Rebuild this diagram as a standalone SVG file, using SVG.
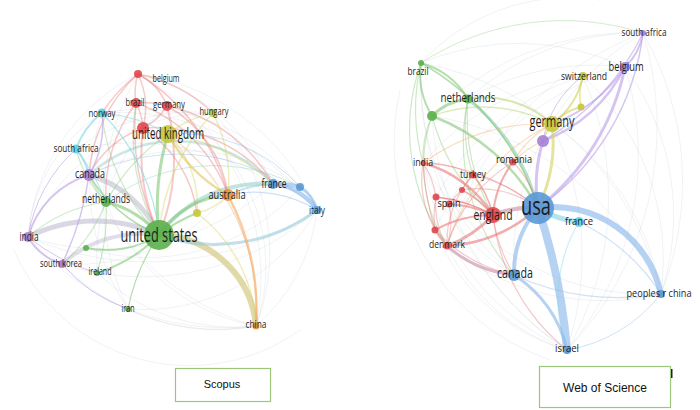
<svg xmlns="http://www.w3.org/2000/svg" width="700" height="410" viewBox="0 0 700 410">
<style>
.e{fill:none;stroke-linecap:round}
.f{stroke-opacity:.22;stroke-width:.8}
.m{stroke-opacity:.4}
.s{stroke-opacity:.6}
.r{stroke:#e8787a}.g{stroke:#84c876}.y{stroke:#d4d25c}.b{stroke:#86b4ea}.p{stroke:#bb9ee6}.c{stroke:#7fd6e4}.o{stroke:#f2aa62}.k{stroke:#aab4c2}.t{stroke:#86cbb8}
.n{fill-opacity:.9}
.nr{fill:#e0474c}.ng{fill:#5bb04d}.ny{fill:#c6c73a}.nb{fill:#5a98d6}.np{fill:#a57fd6}.nc{fill:#5cd0e0}.no{fill:#ef8f3a}
text.l{font-family:"Open Sans","DejaVu Sans",sans-serif;fill:#1e1e1e;text-anchor:middle}
.box{fill:#fff;stroke:#9cc77a;stroke-width:1.2}
text.bt{font-family:"Liberation Sans",Arial,sans-serif;fill:#111;text-anchor:middle}
</style>
<rect width="700" height="410" fill="#fff"/>
<g id="connectors">
<g class="e f k">
<path d="M28,237 A260,260 0 0 0 256,326"/>
<path d="M62,264 A220,220 0 0 0 256,326"/>
<path d="M128,309 A200,200 0 0 0 317,210"/>
<path d="M28,237 A300,300 0 0 0 317,210"/>
<path d="M102,113 A250,250 0 0 1 317,210"/>
<path d="M138,74 A230,230 0 0 1 317,210"/>
<path d="M138,74 A200,200 0 0 1 273,184"/>
<path d="M76,149 A260,260 0 0 1 273,184"/>
<path d="M28,237 A160,160 0 0 1 102,113"/>
<path d="M28,237 A200,200 0 0 1 138,74"/>
<path d="M256,326 A180,180 0 0 0 317,210"/>
<path d="M97,273 A200,200 0 0 0 256,326"/>
<path d="M128,309 A200,200 0 0 0 256,326"/>
<path d="M62,264 A260,260 0 0 0 317,210"/>
<path d="M28,237 A200,200 0 0 1 213,113"/>
<path d="M76,149 A200,200 0 0 1 213,113"/>
<path d="M102,113 A200,200 0 0 1 300,187"/>
<path d="M62,264 A200,200 0 0 0 228,195"/>
<path d="M28,237 A250,250 0 0 0 273,184"/>
<path d="M86,248 A200,200 0 0 0 300,187"/>
<path d="M138,74 A250,250 0 0 0 128,309"/>
<path d="M102,113 A220,220 0 0 0 128,309"/>
<path d="M167,106 A200,200 0 0 0 97,273"/>
<path d="M213,113 A200,200 0 0 1 256,326"/>
<path d="M138,74 A230,230 0 0 1 256,326"/>
<path d="M167,106 A180,180 0 0 1 256,326"/>
<path d="M89,175 A250,250 0 0 0 256,326"/>
<path d="M106,202 A200,200 0 0 0 256,326"/>
<path d="M102,113 A200,200 0 0 1 228,195"/>
<path d="M89,175 A200,200 0 0 1 300,187"/>
<path d="M14,250 A190,190 0 0 0 300,330"/>
</g>
<path class="e" d="M28,237 A150,150 0 0 1 159,235" stroke="#bcb6d0" stroke-opacity=".55" stroke-width="5"/>
<path class="e" d="M89,175 A110,110 0 0 1 159,235" stroke="#b9bcc8" stroke-opacity=".55" stroke-width="5"/>
<path class="e" d="M62,264 A120,120 0 0 1 159,235" stroke="#bdb6d2" stroke-opacity=".45" stroke-width="4"/>
<path class="e" d="M159,235 A100,100 0 0 1 256,326" stroke="#d2c47a" stroke-opacity=".65" stroke-width="6"/>
<path class="e" d="M159,235 A130,130 0 0 1 273,184" stroke="#8ccfc0" stroke-opacity=".55" stroke-width="4"/>
<path class="e" d="M89,175 A130,130 0 0 1 273,184" stroke="#8fcdc4" stroke-opacity=".45" stroke-width="2.5"/>
<path class="e" d="M159,235 A170,170 0 0 0 317,210" stroke="#8fc6d8" stroke-opacity=".55" stroke-width="3"/>
<path class="e t m" d="M106,202 A180,180 0 0 1 300,187"/>
<g class="e r m" stroke-width="1.5">
<path d="M138,74 A80,80 0 0 1 143,128"/>
<path d="M138,74 A60,60 0 0 1 167,106"/>
<path d="M136,103 A60,60 0 0 1 143,128"/>
<path d="M136,103 A80,80 0 0 1 167,106"/>
<path d="M167,106 A60,60 0 0 1 143,128"/>
<path d="M138,74 A60,60 0 0 0 136,103"/>
<path d="M138,74 A200,200 0 0 1 228,195"/>
<path d="M136,103 A150,150 0 0 1 228,195"/>
<path d="M167,106 A120,120 0 0 1 228,195"/>
<path d="M143,128 A150,150 0 0 1 273,184"/>
<path d="M167,106 A160,160 0 0 1 273,184"/>
<path d="M138,74 A150,150 0 0 1 213,113"/>
<path d="M136,103 A250,250 0 0 0 159,235"/>
<path d="M143,128 A200,200 0 0 0 159,235" stroke-width="2"/>
<path d="M167,106 A200,200 0 0 1 159,235" stroke-width="2"/>
<path d="M138,74 A150,150 0 0 0 89,175"/>
<path d="M136,103 A150,150 0 0 0 106,202"/>
<path d="M143,128 A100,100 0 0 0 89,175"/>
<path d="M138,74 A150,150 0 0 0 102,113"/>
<path d="M143,128 A120,120 0 0 1 197,213"/>
</g>
<path class="e o m" d="M168,134 A220,220 0 0 1 256,326" stroke-width="1.2"/>
<g class="e y m" stroke-width="1.5">
<path d="M213,113 A100,100 0 0 0 168,134"/>
<path d="M213,113 A150,150 0 0 1 228,195"/>
<path d="M213,113 A200,200 0 0 0 159,235"/>
<path d="M197,213 A100,100 0 0 0 168,134"/>
<path d="M197,213 A60,60 0 0 0 228,195"/>
<path d="M168,134 A200,200 0 0 1 273,184"/>
<path d="M197,213 A150,150 0 0 1 256,326"/>
</g>
<path class="e" d="M168,134 A150,150 0 0 0 228,195" stroke="#e2c45e" stroke-opacity=".6" stroke-width="2.5"/>
<g class="e g s">
<path d="M159,235 A90,90 0 0 1 228,195" stroke-width="3"/>
<path d="M159,235 A250,250 0 0 1 168,134" stroke-width="3"/>
<path d="M159,235 A100,100 0 0 0 106,202" stroke-width="3"/>
<path d="M159,235 A100,100 0 0 1 86,248" stroke-width="2"/>
<path d="M159,235 A150,150 0 0 1 97,273" stroke-width="2"/>
<path d="M159,235 A200,200 0 0 0 128,309" stroke-width="1.2"/>
<path d="M159,235 A150,150 0 0 1 197,213" stroke-width="2"/>
<path d="M159,235 A150,150 0 0 1 89,175" stroke-width="1.5"/>
</g>
<g class="e g m" stroke-width="1.2">
<path d="M106,202 A150,150 0 0 1 89,175"/>
<path d="M106,202 A200,200 0 0 1 168,134"/>
<path d="M106,202 A150,150 0 0 0 28,237"/>
<path d="M106,202 A150,150 0 0 1 62,264"/>
<path d="M106,202 A200,200 0 0 1 97,273"/>
<path d="M159,235 A200,200 0 0 1 136,103"/>
<path d="M159,235 A200,200 0 0 1 102,113"/>
<path d="M106,202 A120,120 0 0 1 76,149"/>
</g>
<path class="e b s" d="M273,184 A60,60 0 0 1 317,210" stroke-width="4"/>
<path class="e b s" d="M273,184 A80,80 0 0 1 300,187" stroke-width="4"/>
<path class="e b s" d="M300,187 A40,40 0 0 1 317,210" stroke-width="3"/>
<path class="e b m" d="M228,195 A120,120 0 0 1 273,184" stroke-width="2"/>
<path class="e b m" d="M228,195 A120,120 0 0 1 317,210" stroke-width="1.2"/>
<path class="e b m" d="M168,134 A160,160 0 0 1 300,187" stroke-width="1"/>
<path class="e b m" d="M89,175 A200,200 0 0 1 317,210" stroke-width="1"/>
<path class="e o s" d="M228,195 A250,250 0 0 1 256,326" stroke-width="2.5"/>
<g class="e p s">
<path d="M28,237 A90,90 0 0 1 89,175" stroke-width="2"/>
<path d="M28,237 A60,60 0 0 0 62,264" stroke-width="2"/>
<path d="M89,175 A300,300 0 0 1 62,264" stroke-width="1.5"/>
<path d="M89,175 A100,100 0 0 0 102,113" stroke-width="1.5"/>
<path d="M28,237 A150,150 0 0 1 76,149" stroke-width="1"/>
<path d="M28,237 A200,200 0 0 0 97,273" stroke-width="1"/>
<path d="M62,264 A150,150 0 0 0 128,309" stroke-width="1"/>
</g>
<g class="e c s">
<path d="M102,113 A80,80 0 0 0 76,149" stroke-width="2"/>
<path d="M76,149 A60,60 0 0 1 89,175" stroke-width="2"/>
<path d="M102,113 A200,200 0 0 1 159,235" stroke-width="1.2"/>
<path d="M76,149 A200,200 0 0 1 106,202" stroke-width="1"/>
<path d="M102,113 A150,150 0 0 1 168,134" stroke-width="1"/>
</g>

<g class="e f k">
<path d="M421,63 A260,260 0 0 1 643,33" class="g" style="stroke-opacity:.45"/>
<path d="M421,63 A330,330 0 0 0 567,350"/>
<path d="M423,163 A250,250 0 0 0 567,350"/>
<path d="M447,246 A200,200 0 0 0 567,350"/>
<path d="M643,33 A300,300 0 0 1 661,294"/>
<path d="M625,67 A300,300 0 0 1 567,350"/>
<path d="M625,67 A250,250 0 0 1 661,294"/>
<path d="M583,76 A300,300 0 0 1 567,350"/>
<path d="M643,33 A320,320 0 0 1 567,350"/>
<path d="M468,99 A250,250 0 0 1 643,33"/>
<path d="M432,116 A300,300 0 0 0 567,350"/>
<path d="M423,163 A260,260 0 0 0 661,294"/>
<path d="M447,246 A250,250 0 0 0 661,294"/>
<path d="M567,350 A150,150 0 0 0 661,294" class="b" style="stroke-opacity:.5"/>
<path d="M421,63 A300,300 0 0 1 661,294"/>
<path d="M432,116 A300,300 0 0 1 661,294"/>
<path d="M421,63 A250,250 0 0 1 625,67"/>
<path d="M468,99 A250,250 0 0 1 625,67"/>
<path d="M423,163 A250,250 0 0 1 583,76"/>
<path d="M436,197 A250,250 0 0 1 625,67"/>
<path d="M583,76 A250,250 0 0 1 661,294"/>
<path d="M552,124 A250,250 0 0 1 661,294"/>
<path d="M552,124 A300,300 0 0 1 567,350"/>
<path d="M421,63 A250,250 0 0 0 514,275"/>
<path d="M423,163 A200,200 0 0 0 514,275"/>
<path d="M435,230 A200,200 0 0 0 567,350"/>
<path d="M421,63 A200,200 0 0 1 600,0"/>
<path d="M400,90 A230,230 0 0 0 550,360"/>
<path d="M432,116 A280,280 0 0 1 643,33"/>
<path d="M447,246 A320,320 0 0 1 643,33"/>
<path d="M435,230 A300,300 0 0 1 625,67"/>
<path d="M514,275 A260,260 0 0 1 643,33"/>
</g>
<path class="e b s" d="M538,208 A600,600 0 0 1 567,350" stroke-width="8"/>
<path class="e b s" d="M538,208 A110,110 0 0 1 661,294" stroke-width="6"/>
<path class="e c s" d="M538,208 A100,100 0 0 0 579,222" stroke-width="5"/>
<path class="e b s" d="M538,208 A100,100 0 0 0 514,275" stroke-width="4"/>
<path class="e b s" d="M514,275 A120,120 0 0 1 567,350" stroke-width="3"/>
<path class="e" d="M493,215 A100,100 0 0 1 538,208" stroke="#c98aa2" stroke-opacity=".6" stroke-width="4"/>
<g class="e p s">
<path d="M538,208 A150,150 0 0 1 543,141" stroke-width="3"/>
<path d="M538,208 A240,240 0 0 0 625,67" stroke-width="3"/>
<path d="M543,141 A150,150 0 0 0 625,67" stroke-width="2.5"/>
<path d="M552,124 A150,150 0 0 0 625,67" stroke-width="2"/>
<path d="M538,208 A250,250 0 0 0 643,33" stroke-width="1.5"/>
<path d="M625,67 A60,60 0 0 0 643,33" stroke-width="2"/>
<path d="M543,141 A250,250 0 0 0 643,33" stroke-width="1.2"/>
<path d="M543,141 A100,100 0 0 1 583,76" stroke-width="1"/>
</g>
<g class="e y s">
<path d="M552,124 A80,80 0 0 0 583,76" stroke-width="2"/>
<path d="M552,124 A60,60 0 0 1 581,107" stroke-width="2"/>
<path d="M581,107 A60,60 0 0 1 583,76" stroke-width="1.5"/>
<path d="M538,208 A150,150 0 0 0 552,124" stroke-width="3"/>
<path d="M543,141 A60,60 0 0 1 552,124" stroke-width="1.5"/>
</g>
<path class="e" d="M468,99 A100,100 0 0 1 552,124" stroke="#b8d06a" stroke-opacity=".55" stroke-width="2"/>
<path class="e" d="M432,116 A150,150 0 0 1 552,124" stroke="#b8d06a" stroke-opacity=".45" stroke-width="1.5"/>
<g class="e g s">
<path d="M468,99 A60,60 0 0 0 432,116" stroke-width="3"/>
<path d="M421,63 A80,80 0 0 0 432,116" stroke-width="2"/>
<path d="M421,63 A80,80 0 0 1 468,99" stroke-width="2"/>
<path d="M432,116 A200,200 0 0 1 538,208" stroke-width="2.5"/>
<path d="M468,99 A200,200 0 0 1 538,208" stroke-width="3" style="stroke:#8dccb0"/>
<path d="M421,63 A250,250 0 0 1 538,208" stroke-width="1.5"/>
</g>
<g class="e g m" stroke-width="1.2">
<path d="M468,99 A200,200 0 0 0 493,215"/>
<path d="M432,116 A200,200 0 0 0 493,215"/>
<path d="M432,116 A150,150 0 0 0 447,246"/>
<path d="M421,63 A200,200 0 0 0 447,246"/>
<path d="M468,99 A200,200 0 0 0 514,275"/>
<path d="M421,63 A200,200 0 0 0 423,163"/>
<path d="M432,116 A100,100 0 0 0 423,163"/>
<path d="M468,99 A150,150 0 0 0 473,175"/>
</g>
<g class="e r s">
<path d="M493,215 A120,120 0 0 1 447,246" stroke-width="3"/>
<path d="M493,215 A120,120 0 0 0 435,230" stroke-width="2"/>
<path d="M493,215 A120,120 0 0 0 449,204" stroke-width="2"/>
<path d="M493,215 A150,150 0 0 0 436,197" stroke-width="1.5"/>
<path d="M493,215 A100,100 0 0 0 462,190" stroke-width="1.5"/>
<path d="M493,215 A100,100 0 0 0 473,175" stroke-width="1.5"/>
<path d="M493,215 A100,100 0 0 1 513,162" stroke-width="2"/>
<path d="M493,215 A120,120 0 0 0 423,163" stroke-width="2.5"/>
<path d="M447,246 A150,150 0 0 0 538,208" stroke-width="2.5"/>
</g>
<g class="e r m" stroke-width="1.2">
<path d="M423,163 A100,100 0 0 0 447,246"/>
<path d="M423,163 A80,80 0 0 1 436,197"/>
<path d="M436,197 A80,80 0 0 0 447,246"/>
<path d="M449,204 A80,80 0 0 1 447,246"/>
<path d="M473,175 A100,100 0 0 0 447,246"/>
<path d="M513,162 A150,150 0 0 0 447,246"/>
<path d="M435,230 A60,60 0 0 0 447,246"/>
<path d="M423,163 A100,100 0 0 1 473,175"/>
<path d="M423,163 A200,200 0 0 1 538,208"/>
<path d="M435,230 A150,150 0 0 0 514,275"/>
<path d="M513,162 A100,100 0 0 1 538,208"/>
<path d="M473,175 A150,150 0 0 1 538,208"/>
<path d="M436,197 A150,150 0 0 1 493,215"/>
<path d="M462,190 A100,100 0 0 1 538,208"/>
<path d="M493,215 A150,150 0 0 0 514,275"/>
<path d="M493,215 A200,200 0 0 0 567,350"/>
<path d="M436,197 A100,100 0 0 0 435,230"/>
<path d="M449,204 A100,100 0 0 1 462,190"/>
<path d="M462,190 A60,60 0 0 1 473,175"/>
<path d="M423,163 A300,300 0 0 0 435,230"/>
</g>
<path class="e" d="M447,246 A120,120 0 0 0 514,275" stroke="#c48aa8" stroke-opacity=".6" stroke-width="3"/>
<g class="e o m" stroke-width="1.2">
<path d="M513,162 A100,100 0 0 1 543,141"/>
<path d="M513,162 A100,100 0 0 1 552,124"/>
<path d="M423,163 A200,200 0 0 1 552,124"/>
<path d="M447,246 A200,200 0 0 1 552,124"/>
</g>
<g class="e b m" stroke-width="1.2">
<path d="M514,275 A250,250 0 0 0 661,294"/>
<path d="M579,222 A150,150 0 0 0 567,350" class="c"/>
<path d="M579,222 A200,200 0 0 1 661,294"/>
</g>
</g>

<g id="l-united-states"><circle class="n ng" cx="159" cy="235" r="15"/><text class="l" x="159" y="242" font-size="20" textLength="77" lengthAdjust="spacingAndGlyphs">united states</text></g>
<g id="l-uk-red"><circle class="n nr" cx="143" cy="128" r="6"/></g>
<g id="l-united-kingdom"><circle class="n ny" cx="168" cy="134" r="9"/><text class="l" x="168" y="139" font-size="17" textLength="72" lengthAdjust="spacingAndGlyphs">united kingdom</text></g>
<g id="l-belgium"><circle class="n nr" cx="138" cy="74" r="4"/><text class="l" x="166" y="82" font-size="11" textLength="27" lengthAdjust="spacingAndGlyphs">belgium</text></g>
<g id="l-brazil"><circle class="n nr" cx="136" cy="103" r="5"/><text class="l" x="135" y="106" font-size="11" textLength="19" lengthAdjust="spacingAndGlyphs">brazil</text></g>
<g id="l-germany"><circle class="n nr" cx="167" cy="106" r="5"/><text class="l" x="169" y="108" font-size="11" textLength="32" lengthAdjust="spacingAndGlyphs">germany</text></g>
<g id="l-hungary"><circle class="n ny" cx="213" cy="113" r="4"/><text class="l" x="214" y="115" font-size="10.5" textLength="29" lengthAdjust="spacingAndGlyphs">hungary</text></g>
<g id="l-norway"><circle class="n nc" cx="102" cy="113" r="4.5"/><text class="l" x="102" y="117" font-size="11" textLength="27" lengthAdjust="spacingAndGlyphs">norway</text></g>
<g id="l-south-africa"><circle class="n nc" cx="76" cy="149" r="4.5"/><text class="l" x="76" y="152" font-size="11" textLength="45" lengthAdjust="spacingAndGlyphs">south africa</text></g>
<g id="l-canada"><circle class="n np" cx="89" cy="175" r="6"/><text class="l" x="90" y="178" font-size="13" textLength="30" lengthAdjust="spacingAndGlyphs">canada</text></g>
<g id="l-netherlands"><circle class="n ng" cx="106" cy="202" r="5"/><text class="l" x="106" y="203" font-size="12" textLength="48" lengthAdjust="spacingAndGlyphs">netherlands</text></g>
<g id="l-india"><circle class="n np" cx="28" cy="237" r="5"/><text class="l" x="29" y="241" font-size="12" textLength="19" lengthAdjust="spacingAndGlyphs">india</text></g>
<g id="l-small-green"><circle class="n ng" cx="86" cy="248" r="3"/></g>
<g id="l-south-korea"><circle class="n np" cx="62" cy="264" r="4"/><text class="l" x="61" y="267" font-size="11" textLength="42" lengthAdjust="spacingAndGlyphs">south korea</text></g>
<g id="l-ireland"><circle class="n ng" cx="97" cy="273" r="3"/><text class="l" x="100" y="275" font-size="11" textLength="23" lengthAdjust="spacingAndGlyphs">ireland</text></g>
<g id="l-iran"><circle class="n ng" cx="128" cy="309" r="3"/><text class="l" x="128" y="312" font-size="10.5" textLength="13" lengthAdjust="spacingAndGlyphs">iran</text></g>
<g id="l-china"><circle class="n no" cx="256" cy="326" r="3.5"/><text class="l" x="256" y="328" font-size="11" textLength="21" lengthAdjust="spacingAndGlyphs">china</text></g>
<g id="l-small-yellow"><circle class="n ny" cx="197" cy="213" r="4"/></g>
<g id="l-australia"><circle class="n no" cx="228" cy="195" r="6"/><text class="l" x="227" y="199" font-size="13" textLength="37" lengthAdjust="spacingAndGlyphs">australia</text></g>
<g id="l-france"><circle class="n nb" cx="273" cy="184" r="5"/><text class="l" x="274" y="188" font-size="12" textLength="25" lengthAdjust="spacingAndGlyphs">france</text></g>
<g id="l-small-blue"><circle class="n nb" cx="300" cy="187" r="4"/></g>
<g id="l-italy"><circle class="n nb" cx="317" cy="210" r="4"/><text class="l" x="317" y="214" font-size="11.5" textLength="16" lengthAdjust="spacingAndGlyphs">italy</text></g>

<g id="r-south-africa"><circle class="n np" cx="643" cy="33" r="3"/><text class="l" x="644" y="36" font-size="11" textLength="45" lengthAdjust="spacingAndGlyphs">south africa</text></g>
<g id="r-belgium"><circle class="n np" cx="625" cy="67" r="5"/><text class="l" x="626" y="71" font-size="13" textLength="35" lengthAdjust="spacingAndGlyphs">belgium</text></g>
<g id="r-switzerland"><circle class="n ny" cx="583" cy="76" r="4"/><text class="l" x="584" y="80" font-size="11" textLength="46" lengthAdjust="spacingAndGlyphs">switzerland</text></g>
<g id="r-small-yellow"><circle class="n ny" cx="581" cy="107" r="3.5"/></g>
<g id="r-germany"><circle class="n ny" cx="552" cy="124" r="8"/><text class="l" x="552" y="127" font-size="17" textLength="45" lengthAdjust="spacingAndGlyphs">germany</text></g>
<g id="r-purple"><circle class="n np" cx="543" cy="141" r="6"/></g>
<g id="r-brazil"><circle class="n ng" cx="421" cy="63" r="3"/><text class="l" x="418" y="75" font-size="10.5" textLength="21" lengthAdjust="spacingAndGlyphs">brazil</text></g>
<g id="r-netherlands"><circle class="n ng" cx="468" cy="99" r="4.5"/><text class="l" x="468" y="102" font-size="13" textLength="55" lengthAdjust="spacingAndGlyphs">netherlands</text></g>
<g id="r-green"><circle class="n ng" cx="432" cy="116" r="5"/></g>
<g id="r-india"><circle class="n nr" cx="423" cy="163" r="2.5"/><text class="l" x="423" y="166" font-size="11" textLength="20" lengthAdjust="spacingAndGlyphs">india</text></g>
<g id="r-romania"><circle class="n nr" cx="513" cy="162" r="3.5"/><text class="l" x="514" y="163" font-size="11.5" textLength="36" lengthAdjust="spacingAndGlyphs">romania</text></g>
<g id="r-turkey"><circle class="n nr" cx="473" cy="175" r="3.5"/><text class="l" x="473" y="178" font-size="11" textLength="26" lengthAdjust="spacingAndGlyphs">turkey</text></g>
<g id="r-red-1"><circle class="n nr" cx="462" cy="190" r="3"/></g>
<g id="r-red-2"><circle class="n nr" cx="436" cy="197" r="3.5"/></g>
<g id="r-spain"><circle class="n nr" cx="449" cy="204" r="3.5"/><text class="l" x="449" y="207" font-size="11" textLength="23" lengthAdjust="spacingAndGlyphs">spain</text></g>
<g id="r-red-3"><circle class="n nr" cx="435" cy="230" r="3.5"/></g>
<g id="r-england"><circle class="n nr" cx="493" cy="215" r="8"/><text class="l" x="493" y="220" font-size="14" textLength="39" lengthAdjust="spacingAndGlyphs">england</text></g>
<g id="r-usa"><circle class="n nb" cx="538" cy="208" r="16"/><text class="l" x="536" y="215" font-size="26" textLength="30" lengthAdjust="spacingAndGlyphs">usa</text></g>
<g id="r-france"><circle class="n nc" cx="579" cy="222" r="5"/><text class="l" x="579" y="225" font-size="11.5" textLength="28" lengthAdjust="spacingAndGlyphs">france</text></g>
<g id="r-denmark"><circle class="n nr" cx="447" cy="246" r="3.5"/><text class="l" x="447" y="248" font-size="11" textLength="36" lengthAdjust="spacingAndGlyphs">denmark</text></g>
<g id="r-canada"><circle class="n nb" cx="514" cy="275" r="6"/><text class="l" x="515" y="278" font-size="14" textLength="36" lengthAdjust="spacingAndGlyphs">canada</text></g>
<g id="r-peoples-r-china"><circle class="n nb" cx="661" cy="294" r="4"/><text class="l" x="659" y="297" font-size="11.5" textLength="65" lengthAdjust="spacingAndGlyphs">peoples r china</text></g>
<g id="r-israel"><circle class="n nb" cx="567" cy="350" r="4"/><text class="l" x="567" y="352" font-size="11.5" textLength="24" lengthAdjust="spacingAndGlyphs">israel</text></g>

<g id="caption-scopus"><rect class="box" x="175.5" y="368.5" width="95" height="33"/><text class="bt" x="222" y="388" font-size="11">Scopus</text></g>
<g id="caption-wos"><rect class="box" x="539.5" y="366.5" width="131" height="41"/><text class="bt" x="605" y="392" font-size="12">Web of Science</text><rect x="671" y="369" width="1.5" height="9" fill="#222"/></g>
</svg>
